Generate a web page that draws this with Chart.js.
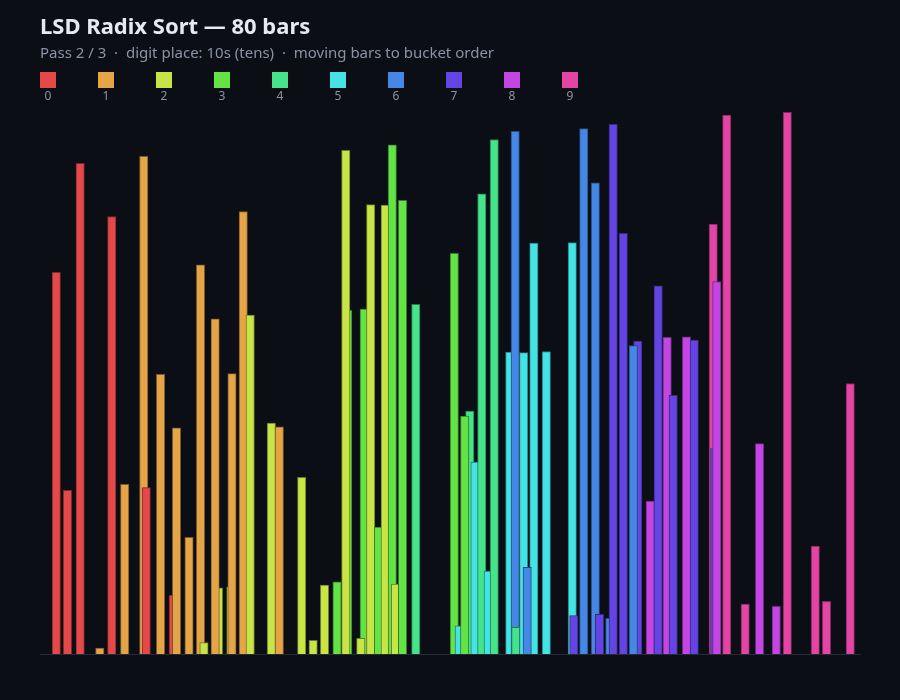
<!DOCTYPE html>
<html>
<head>
<meta charset="utf-8">
<script src="https://cdn.jsdelivr.net/npm/chart.js@4.4.1/dist/chart.umd.min.js"></script>
<style>
  body { margin: 0; background: #0b0e14; font-family: "Noto Sans", sans-serif; }
  #wrap { position: relative; width: 900px; height: 700px; overflow: hidden; }
  #chart { position: absolute; left: 0; top: 0; }
  .title { position: absolute; left: 40px; top: 13.8px; font-size: 22px; line-height: 22px; font-weight: 700; color: #e6e9ef; white-space: pre; }
  .sub { position: absolute; left: 40px; top: 44.7px; font-size: 15px; line-height: 15px; color: #8a93a5; white-space: pre; }
  .key { position: absolute; top: 72px; width: 16px; text-align: center; }
  .key .sw { width: 16px; height: 16px; }
  .key .lb { position: absolute; left: -10px; width: 36px; top: 17.5px; font-size: 12px; line-height: 12px; color: #8a93a5; }
</style>
</head>
<body>
<div id="wrap">
  <canvas id="chart" width="900" height="700"></canvas>
  <div class="title">LSD Radix Sort — 80 bars</div>
  <div class="sub">Pass 2 / 3  ·  digit place: 10s (tens)  ·  moving bars to bucket order</div>
  <div id="legend"></div>
</div>
<script>
// bucket digits (tens place) and their colours
const digitLabels = ['0', '1', '2', '3', '4', '5', '6', '7', '8', '9'];
const digitColors = ['#e54848', '#e5a445', '#c8e445', '#63e445', '#45e48a',
                     '#45e4e4', '#4587e4', '#6445e4', '#c445e4', '#e445a4'];

// bar positions (slot units, fractional while moving) in draw order
const barSlots = [
  1.09, 2.18, 3.42, 5.33, 6.50, 7.76, 9.62, 9.87, 11.26, 12.50,
  12.82, 14.04, 15.16, 15.50, 16.91, 16.59, 18.12, 18.23, 19.33, 20.01,
  22.07, 22.85, 25.03, 26.15, 27.26, 28.48, 29.52, 29.33, 31.13, 30.79,
  31.76, 32.52, 33.18, 33.87, 34.18, 34.87, 36.16, 39.92, 40.40, 41.43,
  40.93, 41.94, 42.60, 43.23, 43.82, 45.33, 45.86, 45.92, 46.69, 47.68,
  47.03, 48.90, 51.43, 51.58, 52.55, 53.68, 54.09, 55.09, 55.42, 56.41,
  57.82, 57.38, 59.03, 59.81, 60.69, 61.28, 62.57, 63.33, 65.18, 65.33,
  65.53, 66.50, 68.30, 69.70, 71.33, 72.41, 75.14, 76.23, 78.55
];

// bar values, same order
const barValues = [
  704, 302, 905, 11, 807, 313, 918, 307, 516, 108,
  417, 215, 718, 21, 122, 618, 124, 517, 816, 625,
  426, 419, 326, 25, 127, 133, 634, 929, 636, 29,
  829, 234, 828, 939, 129, 837, 645, 739, 52, 448,
  439, 354, 849, 153, 949, 557, 964, 49, 556, 758,
  160, 558, 759, 71, 969, 869, 73, 66, 977, 776,
  577, 569, 282, 679, 584, 477, 585, 579, 793, 379,
  687, 994, 92, 388, 88, 999, 199, 97, 499
];

function darken(hex, f) {
  const n = parseInt(hex.slice(1), 16);
  const r = Math.round(((n >> 16) & 255) * f + 11 * (1 - f));
  const g = Math.round(((n >> 8) & 255) * f + 14 * (1 - f));
  const b = Math.round((n & 255) * f + 20 * (1 - f));
  return `rgb(${r},${g},${b})`;
}

const digitOf = v => Math.floor(v / 10) % 10;
const fills = barValues.map(v => digitColors[digitOf(v)]);
const borders = barValues.map(v => darken(digitColors[digitOf(v)], 0.5));

// legend
const legend = document.getElementById('legend');
digitLabels.forEach((lab, i) => {
  const k = document.createElement('div');
  k.className = 'key';
  k.style.left = (40 + i * 58) + 'px';
  k.innerHTML = `<div class="sw" style="background:${digitColors[i]}"></div><div class="lb">${lab}</div>`;
  legend.appendChild(k);
});

new Chart(document.getElementById('chart'), {
  type: 'bar',
  data: {
    datasets: [{
      data: barSlots.map((s, i) => ({ x: s, y: barValues[i] })),
      backgroundColor: fills,
      borderColor: borders,
      borderWidth: 1,
      borderSkipped: 'start',
      barThickness: 8.4,
      grouped: false
    }]
  },
  options: {
    responsive: false,
    animation: false,
    devicePixelRatio: 1,
    layout: { padding: { left: 40, right: 40, top: 101, bottom: 38 } },
    plugins: { legend: { display: false }, tooltip: { enabled: false } },
    scales: {
      x: {
        type: 'linear',
        offset: false,
        min: -0.5,
        max: 79.5,
        grid: { display: false },
        ticks: { display: false },
        border: { display: true, color: '#262b38', width: 1 }
      },
      y: {
        min: 0,
        max: 1020,
        display: false
      }
    }
  }
});
</script>
</body>
</html>
